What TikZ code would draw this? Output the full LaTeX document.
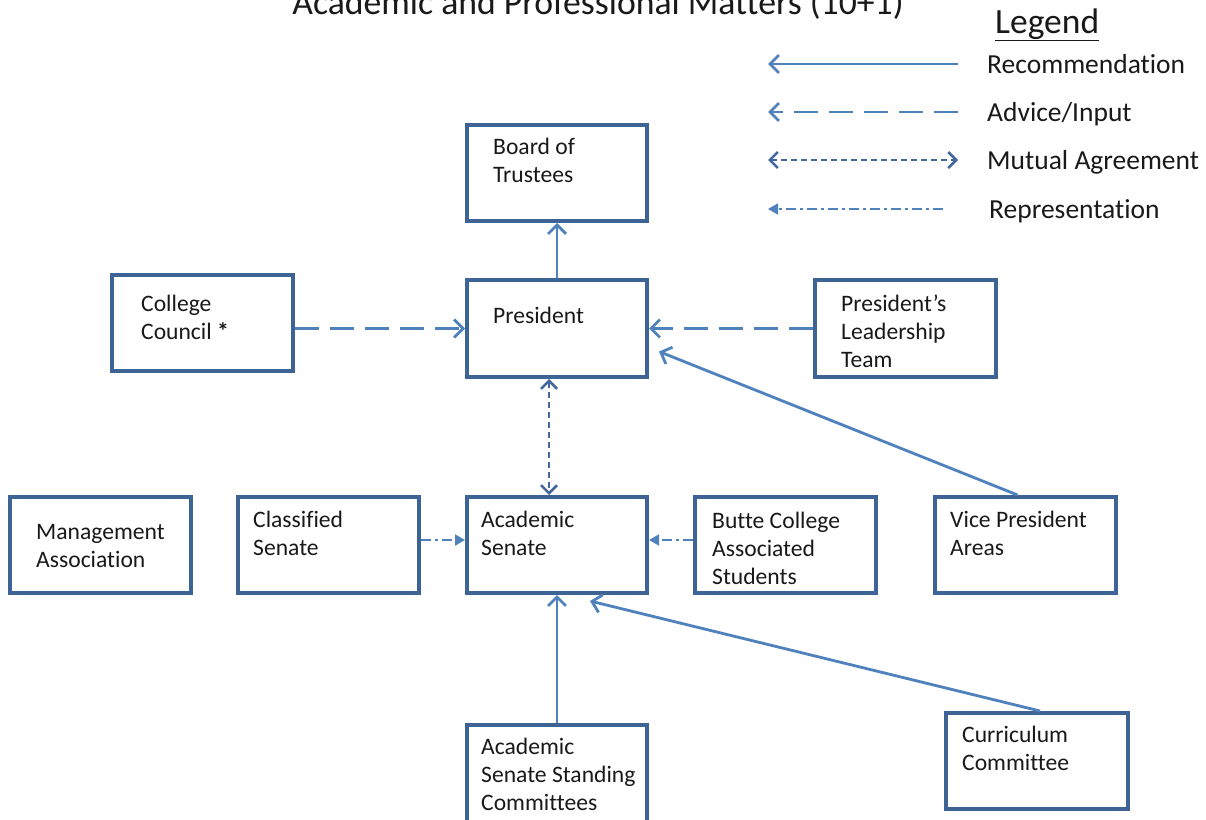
\documentclass[tikz,border=0pt]{standalone}
\usepackage{fontspec}
\setmainfont{Carlito}[Ligatures=NoCommon]
\usetikzlibrary{arrows.meta,calc}
\definecolor{boxblue}{RGB}{62,100,150}
\definecolor{linkblue}{RGB}{79,129,189}
\definecolor{agreeblue}{RGB}{66,104,158}
\begin{document}
\begin{tikzpicture}[x=1pt,y=-1pt,
  orgbox/.style={draw=boxblue, line width=4pt, rectangle, inner sep=0pt, fill=white},
  % labels are placed by the baseline of their last line
  lbl/.style={anchor=base west, align=left, inner sep=0pt,
    font=\fontsize{23.6}{28.4}\selectfont, text=black!90},
  legtext/.style={anchor=base west, inner sep=0pt,
    font=\fontsize{27.5}{33}\selectfont, text=black!90},
  recarrow/.style={draw=linkblue, line width=2.8pt,
    -{Straight Barb[length=9pt,width=18pt]}},
  advarrow/.style={draw=linkblue, line width=2.8pt, dash pattern=on 24pt off 11pt,
    -{Straight Barb[length=9pt,width=18pt]}},
  agreearrow/.style={draw=agreeblue, line width=2.5pt, dash pattern=on 6pt off 4pt,
    {Straight Barb[length=8pt,width=16pt]}-{Straight Barb[length=8pt,width=16pt]}},
  reparrow/.style={draw=linkblue, line width=1.8pt,
    dash pattern=on 10pt off 4pt on 3pt off 4pt,
    -{Triangle[length=10pt,width=11pt]}}]

\useasboundingbox[fill=white] (0,0) rectangle (1206,819);

% title and legend
\node[anchor=base, inner sep=0pt, font=\fontsize{35.7}{42}\selectfont, text=black!90]
  (title) at (598,14) {Academic and Professional Matters (10+1)};
\node[anchor=base west, inner sep=0pt, font=\fontsize{35.5}{42}\selectfont, text=black!90]
  (legend) at (995,33) {\underline{Legend}};

\coordinate (l1a) at (958,64);  \coordinate (l1b) at (768,64);
\coordinate (l2a) at (958,112); \coordinate (l2b) at (768,112);
\coordinate (l3a) at (768,160); \coordinate (l3b) at (958,160);
\coordinate (l4a) at (943,209); \coordinate (l4b) at (768,209);
\draw[recarrow] (l1a) -- (l1b);
\draw[advarrow] (l2a) -- (l2b);
\draw[agreearrow] (l3a) -- (l3b);
\draw[reparrow] (l4a) -- (l4b);
\node[legtext] (lg1) at (987,73) {Recommendation};
\node[legtext] (lg2) at (987,121) {Advice/Input};
\node[legtext] (lg3) at (987,169) {Mutual Agreement};
\node[legtext] (lg4) at (989,218) {Representation};

% boxes
\node[orgbox, minimum width=180pt, minimum height=96pt] (bot)  at (557,173) {};
\node[orgbox, minimum width=180pt, minimum height=97pt] (pres) at (557,328.5) {};
\node[orgbox, minimum width=181pt, minimum height=96pt] (cc)   at (202.5,323) {};
\node[orgbox, minimum width=181pt, minimum height=97pt] (plt)  at (905.5,328.5) {};
\node[orgbox, minimum width=181pt, minimum height=96pt] (mgmt) at (100.5,545) {};
\node[orgbox, minimum width=181pt, minimum height=96pt] (cls)  at (328.5,545) {};
\node[orgbox, minimum width=180pt, minimum height=96pt] (as)   at (557,545) {};
\node[orgbox, minimum width=181pt, minimum height=96pt] (bcas) at (785.5,545) {};
\node[orgbox, minimum width=181pt, minimum height=96pt] (vp)   at (1025.5,545) {};
\node[orgbox, minimum width=180pt, minimum height=104pt] (assc) at (557,777) {};
\node[orgbox, minimum width=182pt, minimum height=96pt] (cur)  at (1037,761) {};

% box labels
\node[lbl] (t-bot)  at (493,182.4) {Board of\\Trustees};
\node[lbl] (t-pres) at (493,323)   {President};
\node[lbl] (t-cc)   at (141,339.4) {College\\Council \textbf{*}};
\node[lbl] (t-plt)  at (841,367.8) {President’s\\Leadership\\Team};
\node[lbl] (t-mgmt) at (36,567.4)  {Management\\Association};
\node[lbl] (t-cls)  at (253,555.4) {Classified\\Senate};
\node[lbl] (t-as)   at (481,555.4) {Academic\\Senate};
\node[lbl] (t-bcas) at (712,584.8) {Butte College\\Associated\\Students};
\node[lbl] (t-vp)   at (950,555.4) {Vice President\\Areas};
\node[lbl] (t-assc) at (481,810.8) {Academic\\Senate Standing\\Committees};
\node[lbl] (t-cur)  at (962,770.4) {Curriculum\\Committee};

% connectors
\draw[recarrow] (pres.north) -- (bot.south);
\draw[advarrow] (cc.east |- pres.west) -- (pres.west);
\draw[advarrow] (plt.west) -- (pres.east);
\draw[recarrow] ($(vp.north)+(-8,0)$) -- ($(pres.east)+(10,23)$);
\draw[agreearrow] ($(pres.south)+(-8,0)$) -- ($(as.north)+(-8,0)$);
\draw[reparrow] ($(cls.east)+(0,-5)$) -- ($(as.west)+(0,-5)$);
\draw[reparrow] ($(bcas.west)+(0,-5)$) -- ($(as.east)+(0,-5)$);
\draw[recarrow] (assc.north) -- (as.south);
\draw[recarrow] ($(cur.north)+(3,0)$) -- ($(as.south)+(33,6)$);
\end{tikzpicture}
\end{document}
